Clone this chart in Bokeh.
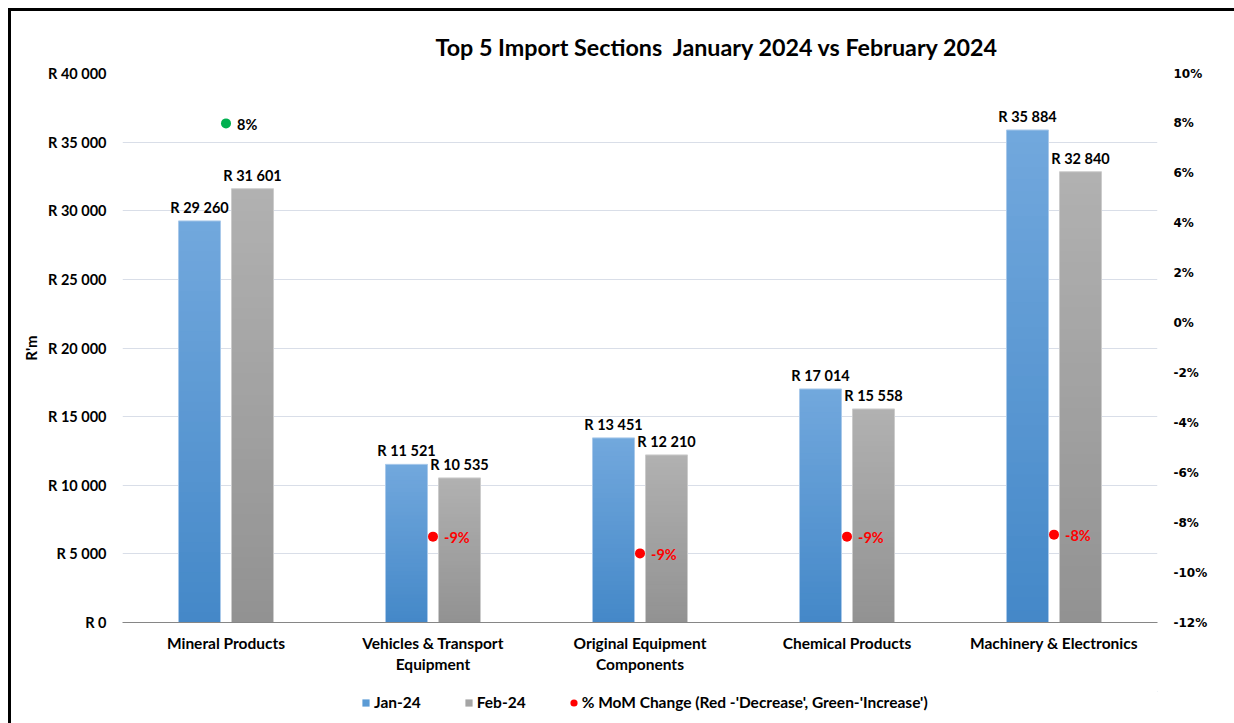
from bokeh.plotting import figure
from bokeh.layouts import column
from bokeh.models import (FactorRange, Range1d, LinearAxis, FixedTicker, ColumnDataSource,
                          Legend, LegendItem, CustomJSTickFormatter, PrintfTickFormatter)
from bokeh.transform import dodge
from bokeh.core.properties import value
from bokeh.embed import file_html
from bokeh.resources import INLINE

# ---------------- data ----------------
categories = ["Mineral Products", "Vehicles & Transport\nEquipment",
              "Original Equipment\nComponents", "Chemical Products",
              "Machinery & Electronics"]
jan_values = [29260, 11521, 13451, 17014, 35884]
feb_values = [31601, 10535, 12210, 15558, 32840]
mom_change = [8.0, -8.56, -9.23, -8.56, -8.48]   # % month-on-month
series_names = ["Jan-24", "Feb-24"]
left_ticks = [0, 5000, 10000, 15000, 20000, 25000, 30000, 35000, 40000]
right_ticks = [-12, -10, -8, -6, -4, -2, 0, 2, 4, 6, 8, 10]

FONT = "Lato"
JAN_TOP, JAN_BOT = (0x72, 0xA8, 0xDD), (0x44, 0x88, 0xC8)
FEB_TOP, FEB_BOT = (0xB1, 0xB1, 0xB1), (0x92, 0x92, 0x92)

p = figure(width=1223, height=680, x_range=FactorRange(*categories),
           y_range=Range1d(0, 40000), output_backend="svg", toolbar_location=None,
           min_border_left=111, min_border_right=77, min_border_top=62, min_border_bottom=69)
p.outline_line_color = None
p.background_fill_color = "white"

p.title.text = "Top 5 Import Sections\u00a0 January 2024 vs February 2024"
p.title.text_font = FONT
p.title.text_font_size = "23.3px"
p.title.text_font_style = "bold"
p.title.text_color = "#000000"
p.title.align = "left"
p.title.offset = 313
p.title.standoff = 25

# ---------- gradient bars ----------
N = 40
BW = 0.203
OFF = 0.128


def hexc(c):
    return "#%02x%02x%02x" % c


def grad_source(vals, top_c, bot_c):
    xs, tops, cols = [], [], []
    for i in range(N - 1, -1, -1):
        t = (i + 0.5) / N
        col = tuple(int(round(bot_c[k] + (top_c[k] - bot_c[k]) * t)) for k in range(3))
        for c, v in zip(categories, vals):
            xs.append(c)
            tops.append(v * (i + 1) / N)
            cols.append(hexc(col))
    return ColumnDataSource(dict(x=xs, top=tops, color=cols))


src_jan = grad_source(jan_values, JAN_TOP, JAN_BOT)
src_feb = grad_source(feb_values, FEB_TOP, FEB_BOT)
p.vbar(x=dodge("x", -OFF, range=p.x_range), top="top", bottom=0, width=BW,
       fill_color="color", line_color=None, source=src_jan)
p.vbar(x=dodge("x", OFF, range=p.x_range), top="top", bottom=0, width=BW,
       fill_color="color", line_color=None, source=src_feb)

bars = ColumnDataSource(dict(cat=categories, jan=jan_values, feb=feb_values,
                             jan_lbl=["R " + f"{v:,}".replace(",", " ") for v in jan_values],
                             feb_lbl=["R " + f"{v:,}".replace(",", " ") for v in feb_values],
                             mom=mom_change,
                             mom_lbl=[f"{m:.0f}%" for m in mom_change],
                             dot_col=["#00b050" if m > 0 else "#ff0000" for m in mom_change],
                             lbl_col=["#000000" if m > 0 else "#ff0000" for m in mom_change]))
p.vbar(x=dodge("cat", -OFF, range=p.x_range), top="jan", width=BW, fill_color=None,
       line_color="#a9c9ea", line_width=1, source=bars)
p.vbar(x=dodge("cat", OFF, range=p.x_range), top="feb", width=BW, fill_color=None,
       line_color="#cccccc", line_width=1, source=bars)

# bar labels
p.text(x=dodge("cat", -OFF, range=p.x_range), y="jan", text="jan_lbl", source=bars,
       text_font=value(FONT), text_font_size="14.5px", text_font_style="bold",
       text_align="center", text_baseline="bottom", y_offset=-5, text_color="#000000")
p.text(x=dodge("cat", OFF, range=p.x_range), y="feb", text="feb_lbl", source=bars,
       text_font=value(FONT), text_font_size="14.5px", text_font_style="bold",
       text_align="center", text_baseline="bottom", y_offset=-5, text_color="#000000")

# ---------- right axis & MoM dots ----------
p.extra_y_ranges = {"pct": Range1d(-12, 10)}
raxis = LinearAxis(y_range_name="pct", ticker=FixedTicker(ticks=right_ticks),
                   formatter=PrintfTickFormatter(format="%d%%"))
raxis.axis_line_color = None
raxis.major_tick_line_color = None
raxis.minor_tick_line_color = None
raxis.major_label_text_font = "DejaVu Sans"
raxis.major_label_text_font_style = "bold"
raxis.major_label_text_font_size = "12px"
raxis.major_label_text_color = "#000000"
raxis.major_label_standoff = 10
p.add_layout(raxis, "right")

p.scatter(x="cat", y="mom", y_range_name="pct", size=10, fill_color="dot_col",
          line_color=None, source=bars)
p.text(x="cat", y="mom", y_range_name="pct", text="mom_lbl", source=bars,
       text_font=value(FONT), text_font_size="14.5px", text_font_style="bold",
       text_color="lbl_col", text_align="left", text_baseline="middle", x_offset=11, y_offset=1)

# ---------- left axis ----------
yax = p.yaxis[0]
yax.ticker = FixedTicker(ticks=left_ticks)
yax.formatter = CustomJSTickFormatter(
    code="return 'R ' + Math.round(tick).toString().replace(/\\B(?=(\\d{3})+(?!\\d))/g, ' ');")
yax.axis_line_color = None
yax.major_tick_line_color = None
yax.minor_tick_line_color = None
yax.major_label_text_font = FONT
yax.major_label_text_font_style = "bold"
yax.major_label_text_font_size = "14.5px"
yax.major_label_text_color = "#000000"
yax.major_label_standoff = 10
yax.axis_label = "R'm"
yax.axis_label_text_font = FONT
yax.axis_label_text_font_style = "bold"
yax.axis_label_text_font_size = "15px"
yax.axis_label_text_color = "#000000"
yax.axis_label_standoff = 5

xax = p.xaxis[0]
xax.axis_line_color = "#868686"
xax.major_tick_line_color = None
xax.minor_tick_line_color = None
xax.major_label_text_font = FONT
xax.major_label_text_font_style = "bold"
xax.major_label_text_font_size = "15.5px"
xax.major_label_text_color = "#000000"
xax.major_label_standoff = 5

p.xgrid.grid_line_color = None
p.ygrid.grid_line_color = "#d9dee8"
p.ygrid.ticker = FixedTicker(ticks=left_ticks)

# ---------- legend (own strip below the chart) ----------
lg = figure(width=1223, height=32, x_range=Range1d(0, 1), y_range=Range1d(0, 1),
            output_backend="svg", toolbar_location=None,
            min_border_left=0, min_border_right=0, min_border_top=0, min_border_bottom=0)
lg.axis.visible = False
lg.grid.visible = False
lg.outline_line_color = None
r_jan = lg.vbar(x=[5], top=[6], bottom=[5], width=0.1, fill_color=hexc((0x5b, 0x9b, 0xd5)),
                line_color=None)
r_feb = lg.vbar(x=[5], top=[6], bottom=[5], width=0.1, fill_color=hexc((0xa5, 0xa5, 0xa5)),
                line_color=None)
r_dot = lg.ellipse(x=[5], y=[5], width=10, height=10, width_units="screen",
                   height_units="screen", fill_color="#ff0000", line_color=None)
legend = Legend(items=[LegendItem(label=series_names[0], renderers=[r_jan]),
                       LegendItem(label=series_names[1], renderers=[r_feb]),
                       LegendItem(label="% MoM Change (Red -'Decrease', Green-'Increase')",
                                  renderers=[r_dot])],
                orientation="horizontal", location=(239, 12),
                label_text_font=FONT, label_text_font_style="bold", label_text_font_size="15.5px",
                label_text_color="#000000",
                glyph_width=9, glyph_height=9, label_standoff=4, spacing=43,
                border_line_color=None, background_fill_alpha=0, margin=0, padding=4)
lg.add_layout(legend, "center")

layout = column(p, lg, spacing=0,
                styles={"border-left": "3px solid black", "border-top": "3px solid black",
                        "margin-left": "8px", "margin-top": "8px"})

open("out.html", "w").write(file_html(layout, INLINE))
